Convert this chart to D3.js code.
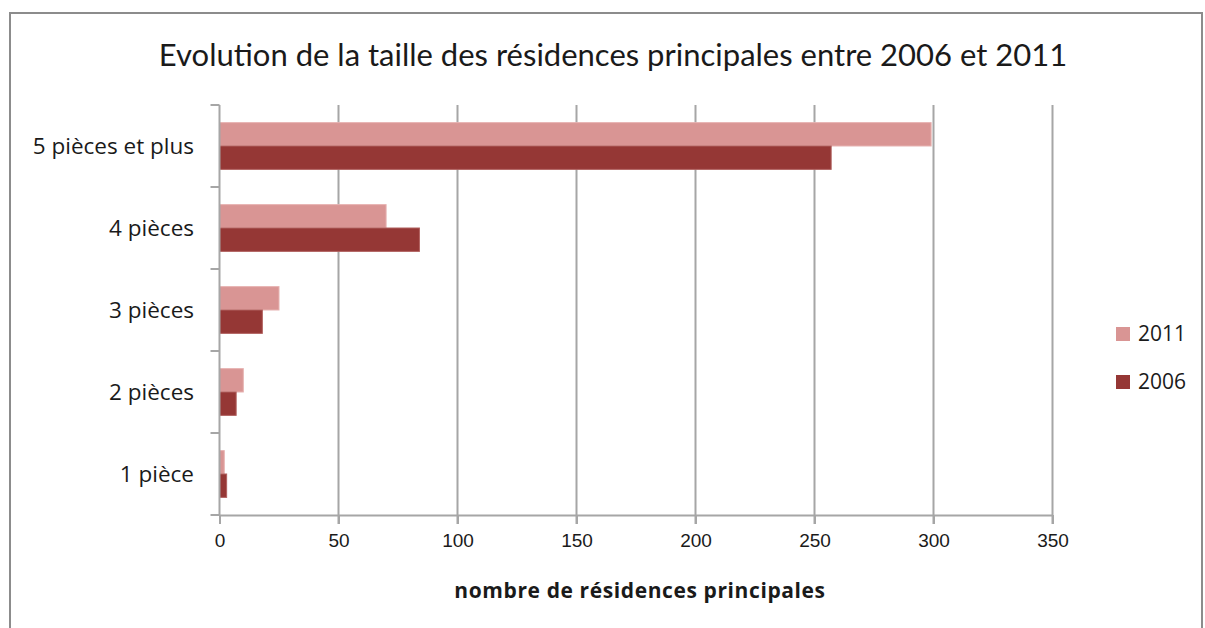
<!DOCTYPE html>
<html>
<head>
<meta charset="utf-8">
<script src="https://cdn.jsdelivr.net/npm/d3@7"></script>
<style>
body{margin:0;background:#fff;}
svg{display:block;}
</style>
</head>
<body>
<svg id="chart" width="1205" height="628"></svg>
<script>
// donnees
var categories = ["5 pièces et plus","4 pièces","3 pièces","2 pièces","1 pièce"];
var series = ["2011","2006"];
var values2011 = [299,70,25,10,2];
var values2006 = [257,84,18,7,3];
var xTicks = [0,50,100,150,200,250,300,350];
var colors = ["#d99594","#953735"];

const svg = d3.select("#chart");

var plotLeft = 219.5, plotRight = 1052.5, plotTop = 105, plotBottom = 515;
var bodyFont = "'Open Sans', 'Noto Sans', sans-serif";

// cadre
svg.append("rect")
.attr("x",10).attr("y",13)
.attr("width",1192).attr("height",640)
.attr("fill","#fff")
.attr("stroke","#8c8c8c")
.attr("stroke-width",2);

svg.append("text")
.attr("x",613).attr("y",66)
.attr("text-anchor","middle")
.style("font-family","Lato, 'Open Sans', sans-serif")
.style("font-size","31px")
.style("fill","#1a1a1a")
.text("Evolution de la taille des résidences principales entre 2006 et 2011");

var xScale = d3.scaleLinear().domain([0,350]).range([plotLeft,plotRight]);
var yScale = d3.scaleBand().domain(categories).range([plotTop,plotBottom]).paddingInner(0.43).paddingOuter(0.215);
var sub = d3.scaleBand().domain(series).range([0,yScale.bandwidth()]);

// grille
svg.selectAll(".grid")
.data(xTicks.slice(1))
.enter()
.append("line")
.attr("class","grid")
.attr("x1",function(d){return xScale(d)})
.attr("x2",function(d){return xScale(d)})
.attr("y1",plotTop).attr("y2",plotBottom+9)
.attr("stroke","#a6a6a6")
.attr("stroke-width",2);

var rows = svg.selectAll(".row")
.data(categories)
.enter()
.append("g")
.attr("class","row")
.attr("transform",function(d){return "translate(0,"+yScale(d)+")"});

rows.append("rect")
.attr("x",xScale(0))
.attr("y",sub("2011"))
.attr("width",function(d,i){return xScale(values2011[i])-xScale(0)})
.attr("height",sub.bandwidth())
.attr("fill",colors[0])
.attr("stroke","#e6b2b1").attr("stroke-width",1);

rows.append("rect")
.attr("x",xScale(0))
.attr("y",sub("2006"))
.attr("width",function(d,i){return xScale(values2006[i])-xScale(0)})
.attr("height",sub.bandwidth())
.attr("fill",colors[1])
.attr("stroke","#b0605e").attr("stroke-width",1);

// axe x
var xAxis = d3.axisBottom(xScale).tickValues(xTicks).tickSize(9).tickSizeOuter(0).tickPadding(10);
var gx = svg.append("g")
.attr("transform","translate(0,"+plotBottom+")")
.call(xAxis);
gx.select(".domain").attr("stroke","#a6a6a6").attr("stroke-width",2);
gx.selectAll(".tick line").attr("stroke","#a6a6a6").attr("stroke-width",2);
gx.selectAll("text")
.style("font-family","'Liberation Sans', sans-serif")
.style("font-size","19px")
.style("fill","#1a1a1a");

// axe y avec graduations entre les categories
var bounds = [plotTop];
for(var i=0;i<categories.length;i++){
	bounds.push(plotTop+(plotBottom-plotTop)*(i+1)/categories.length);
}
svg.append("line")
.attr("x1",plotLeft).attr("x2",plotLeft)
.attr("y1",plotTop).attr("y2",plotBottom)
.attr("stroke","#a6a6a6").attr("stroke-width",2);
svg.selectAll(".ytick")
.data(bounds)
.enter()
.append("line")
.attr("class","ytick")
.attr("x1",plotLeft-9).attr("x2",plotLeft)
.attr("y1",function(d){return d}).attr("y2",function(d){return d})
.attr("stroke","#a6a6a6").attr("stroke-width",2);

svg.selectAll(".ylabel")
.data(categories)
.enter()
.append("text")
.attr("class","ylabel")
.attr("x",194)
.attr("y",function(d){return yScale(d)+yScale.bandwidth()/2+7.5})
.attr("text-anchor","end")
.style("font-family",bodyFont)
.style("font-size","22.5px")
.style("fill","#1a1a1a")
.text(function(d){return d});

svg.append("text")
.attr("x",640).attr("y",598)
.attr("text-anchor","middle")
.style("font-family",bodyFont)
.style("font-weight","bold")
.style("font-size","21px")
.style("letter-spacing","0.6px")
.style("fill","#1a1a1a")
.text("nombre de résidences principales");

// legende
var legend = svg.selectAll(".legend")
.data(series)
.enter()
.append("g")
.attr("class","legend")
.attr("transform",function(d,i){return "translate(1116,"+(327+i*48)+")"});
legend.append("rect")
.attr("width",14).attr("height",14)
.attr("fill",function(d,i){return colors[i]});
legend.append("text")
.attr("x",22).attr("y",14)
.style("font-family",bodyFont)
.style("font-size","21px")
.style("fill","#1a1a1a")
.text(function(d){return d});
</script>
</body>
</html>
